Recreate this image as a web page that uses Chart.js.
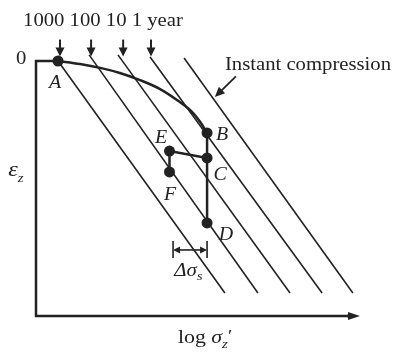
<!DOCTYPE html>
<html>
<head>
<meta charset="utf-8">
<script src="https://cdn.jsdelivr.net/npm/chart.js@4.4.1/dist/chart.umd.min.js"></script>
<style>
  html, body { margin: 0; padding: 0; background: #fff; }
  #wrap { width: 398px; height: 352px; }
</style>
</head>
<body>
<div id="wrap"><canvas id="chart" width="398" height="352"></canvas></div>
<script>
// x = log sigma'z (0..10 along the axis), y = eps_z (0..10, growing downwards)
const ageLabels = ["1000", "100", "10", "1", "year"];
const ageArrowX = [0.74, 1.70, 2.69, 3.55];

// time lines: 1000, 100, 10, 1 year, instant compression
const lineTopX = [0.68, 1.64, 2.53, 3.52, 4.57];
const lineTopY = [0, -0.24, -0.24, -0.16, -0.12];
const lineEndX = [5.83, 6.85, 7.84, 8.83, 9.78];
const lineEndY = [9.1, 9.1, 9.1, 9.1, 9.1];

// loading curve A -> B
const loadX = [0.68, 1.36, 1.98, 2.59, 3.21, 3.83, 4.35, 4.85, 5.09, 5.28];
const loadY = [0, 0.12, 0.27, 0.47, 0.75, 1.10, 1.53, 2.04, 2.43, 2.82];

const stateNames = ["A", "B", "C", "D", "E", "F"];
const stateX = [0.68, 5.28, 5.28, 5.28, 4.12, 4.12];
const stateY = [0, 2.82, 3.80, 6.35, 3.53, 4.35];

const INK = "#222";
const at = n => ({ x: stateX[stateNames.indexOf(n)], y: stateY[stateNames.indexOf(n)] });

function line(data, width) {
  return { data, showLine: true, borderColor: INK, borderWidth: width, pointRadius: 0, clip: false, tension: 0 };
}

const datasets = [
  line([{ x: stateX[0], y: 0 }, { x: 0, y: 0 }, { x: 0, y: 10 }, { x: 9.8, y: 10 }], 2.5),
  ...lineTopX.map((x0, i) => line([{ x: x0, y: lineTopY[i] }, { x: lineEndX[i], y: lineEndY[i] }], 1.6)),
  { ...line(loadX.map((x, i) => ({ x, y: loadY[i] })), 2.5), cubicInterpolationMode: "monotone" },
  line([at("B"), at("D")], 2.5),
  line([at("C"), at("E"), at("F")], 2.5),
  {
    data: stateNames.map(n => at(n)),
    pointRadius: 5.5, pointBackgroundColor: INK, pointBorderWidth: 0, clip: false
  }
];

const SERIF = "'Liberation Serif', 'Times New Roman', serif";
const ROMAN = "18px " + SERIF, ITAL = "italic 19px " + SERIF, SUB = "italic 13px " + SERIF;

function rich(ctx, parts, x, y, align, stretch) {
  let w = 0;
  parts.forEach(p => { ctx.font = p[1]; w += ctx.measureText(p[0]).width; });
  ctx.save();
  ctx.translate(x, y);
  ctx.scale(stretch, 1);
  let cx = align === "center" ? -w / 2 : 0;
  parts.forEach(p => {
    ctx.font = p[1];
    ctx.fillText(p[0], cx, p[2] || 0);
    cx += ctx.measureText(p[0]).width;
  });
  ctx.restore();
}

function arrow(ctx, x1, y1, x2, y2, len, half, width) {
  const a = Math.atan2(y2 - y1, x2 - x1);
  ctx.lineWidth = width;
  ctx.beginPath();
  ctx.moveTo(x1, y1);
  ctx.lineTo(x2 - Math.cos(a) * len * 0.7, y2 - Math.sin(a) * len * 0.7);
  ctx.stroke();
  ctx.beginPath();
  ctx.moveTo(x2, y2);
  ctx.lineTo(x2 - Math.cos(a) * len - Math.sin(a) * half, y2 - Math.sin(a) * len + Math.cos(a) * half);
  ctx.lineTo(x2 - Math.cos(a) * len + Math.sin(a) * half, y2 - Math.sin(a) * len - Math.cos(a) * half);
  ctx.closePath();
  ctx.fill();
}

const sketch = {
  id: "sketch",
  afterDatasetsDraw(chart) {
    const { ctx, scales: { x, y } } = chart;
    const px = v => x.getPixelForValue(v), py = v => y.getPixelForValue(v);
    ctx.save();
    ctx.fillStyle = INK;
    ctx.strokeStyle = INK;
    ctx.textBaseline = "alphabetic";

    // age arrows and their labels
    ageArrowX.forEach(v => arrow(ctx, px(v), py(-0.84), px(v), py(-0.18), 9, 4.5, 2));
    rich(ctx, [[ageLabels.join(" "), ROMAN]], px(-0.4), py(-1.37), "left", 1.15);

    // x axis arrow head
    arrow(ctx, px(9.6), py(10), px(10), py(10), 12, 4, 2.5);

    // instant compression
    rich(ctx, [["Instant compression", ROMAN]], px(5.83), py(0.35), "left", 1.15);
    arrow(ctx, px(6.17), py(0.6), px(5.52), py(1.41), 10, 4.5, 1.8);

    // point names
    const off = { A: [-0.09, 1.05], B: [0.46, 0.27], C: [0.4, 0.86], D: [0.58, 0.66], E: [-0.26, -0.32], F: [0.02, 1.1] };
    stateNames.forEach(n => {
      const p = at(n);
      rich(ctx, [[n, ITAL]], px(p.x + off[n][0]), py(p.y + off[n][1]), "center", 1.05);
    });

    // settlement step
    const xa = 4.23, xb = 5.28;
    ctx.lineWidth = 1.6;
    [xa, xb].forEach(v => {
      ctx.beginPath();
      ctx.moveTo(px(v), py(7.06));
      ctx.lineTo(px(v), py(7.73));
      ctx.stroke();
    });
    arrow(ctx, px((xa + xb) / 2), py(7.41), px(xa), py(7.41), 7, 3.5, 1.6);
    arrow(ctx, px((xa + xb) / 2), py(7.41), px(xb), py(7.41), 7, 3.5, 1.6);
    rich(ctx, [["\u0394\u03c3", ITAL], ["s", SUB, 4]], px(4.27), py(8.45), "left", 1.1);

    // axis labels
    rich(ctx, [["0", ROMAN]], px(-0.46), py(0.1), "center", 1.15);
    rich(ctx, [["\u03b5", "italic 21px " + SERIF], ["z", SUB, 6]], px(-0.86), py(4.51), "left", 1.15);
    rich(ctx, [["log ", "19px " + SERIF], ["\u03c3", "italic 19px " + SERIF], ["z", SUB, 5], ["\u2032", "17px " + SERIF, -2]],
      px(4.38), py(11.06), "left", 1.15);
    ctx.restore();
  }
};

new Chart(document.getElementById("chart"), {
  type: "scatter",
  data: { datasets },
  options: {
    responsive: false,
    animation: false,
    devicePixelRatio: 1,
    layout: { padding: { left: 36, right: 38, top: 61, bottom: 36 } },
    scales: {
      x: { type: "linear", min: 0, max: 10, display: false },
      y: { type: "linear", min: 0, max: 10, reverse: true, display: false }
    },
    plugins: { legend: { display: false }, tooltip: { enabled: false } }
  },
  plugins: [sketch]
});
</script>
</body>
</html>
